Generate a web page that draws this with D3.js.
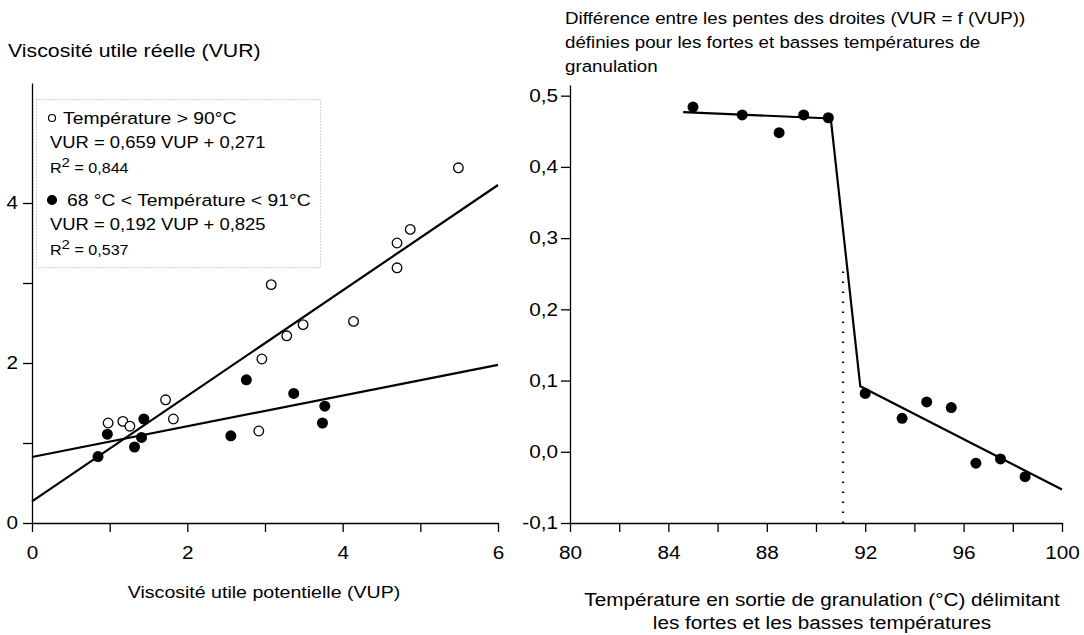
<!DOCTYPE html>
<html>
<head>
<meta charset="utf-8">
<script src="https://cdn.jsdelivr.net/npm/d3@7"></script>
<style>
  body { margin: 0; background: #fff; }
  svg { font-family: "Liberation Sans", Arial, sans-serif; }
  .axis path, .axis line { stroke: #000; stroke-width: 1.3; }
  .axis text { font-size: 18px; fill: #000; }
</style>
</head>
<body>
<svg id="chart" width="1084" height="635"></svg>
<script>
// --- gauche : VUR = f(VUP)
var hotVUP = [0.98, 1.17, 1.26, 1.72, 1.82, 2.92, 2.96, 3.08, 3.28, 3.49, 4.14, 4.70, 4.70, 4.87, 5.49];
var hotVUR = [1.25, 1.27, 1.21, 1.54, 1.30, 1.15, 2.05, 2.98, 2.34, 2.48, 2.52, 3.19, 3.50, 3.67, 4.44];
var coldVUP = [0.85, 0.97, 1.32, 1.41, 1.44, 2.56, 2.76, 3.37, 3.77, 3.74];
var coldVUR = [0.83, 1.11, 0.95, 1.07, 1.30, 1.09, 1.79, 1.62, 1.46, 1.25];
var fitSlope = [0.659, 0.192];
var fitIntercept = [0.271, 0.825];
var legendLines = [
    ['Température > 90°C', 'VUR = 0,659 VUP + 0,271', '0,844'],
    ['68 °C < Température < 91°C', 'VUR = 0,192 VUP + 0,825', '0,537']
];
var leftXTicks = [0, 1, 2, 3, 4, 5, 6];
var leftYTicks = [0, 1, 2, 3, 4];

// --- droite : différence des pentes selon la température de coupure
var cutTemp = [85.0, 87.0, 88.5, 89.5, 90.5, 92.0, 93.5, 94.5, 95.5, 96.5, 97.5, 98.5];
var slopeDiff = [0.484, 0.473, 0.448, 0.473, 0.469, 0.082, 0.047, 0.070, 0.062, -0.016, -0.010, -0.035];
var brokenTemp = [84.6, 90.6, 91.8, 100];
var brokenDiff = [0.477, 0.468, 0.092, -0.053];
var limitTemp = 91.1, limitTop = 0.26;
var rightXTicks = [80, 82, 84, 86, 88, 90, 92, 94, 96, 98, 100];
var rightYTicks = [-0.1, 0, 0.1, 0.2, 0.3, 0.4, 0.5];

var svg = d3.select('#chart');
var fmt = d3.format('.1f');
var comma = d => fmt(d).replace('.', ',').replace('−', '-');

// ===== graphique de gauche
var xL = d3.scaleLinear().domain([0, 6]).range([32, 498]);
var yL = d3.scaleLinear().domain([0, 5.5]).range([523, 83]);

svg.append('g').attr('class', 'axis')
    .attr('transform', 'translate(0,' + yL(0) + ')')
    .call(d3.axisBottom(xL).tickValues(leftXTicks).tickSize(9).tickSizeOuter(0).tickPadding(14)
        .tickFormat(d => d % 2 === 0 ? d : ''));
svg.append('g').attr('class', 'axis')
    .attr('transform', 'translate(' + xL(0) + ',0)')
    .call(d3.axisLeft(yL).tickValues(leftYTicks).tickSize(9).tickSizeOuter(0).tickPadding(5)
        .tickFormat(d => d % 2 === 0 ? d : ''));

// droites de régression
fitSlope.forEach((a, i) => {
    svg.append('line')
        .attr('x1', xL(0)).attr('y1', yL(fitIntercept[i]))
        .attr('x2', xL(6)).attr('y2', yL(a * 6 + fitIntercept[i]))
        .attr('stroke', '#000').attr('stroke-width', 2.2);
});

svg.selectAll('circle.hot').data(d3.range(hotVUP.length)).enter().append('circle')
    .attr('class', 'hot')
    .attr('cx', i => xL(hotVUP[i])).attr('cy', i => yL(hotVUR[i]))
    .attr('r', 4.8).attr('fill', '#fff').attr('stroke', '#000').attr('stroke-width', 1.3);
svg.selectAll('circle.cold').data(d3.range(coldVUP.length)).enter().append('circle')
    .attr('class', 'cold')
    .attr('cx', i => xL(coldVUP[i])).attr('cy', i => yL(coldVUR[i]))
    .attr('r', 5.5).attr('fill', '#000');

// légende
var lg = svg.append('g');
lg.append('rect').attr('x', 36.5).attr('y', 99.5).attr('width', 284).attr('height', 168)
    .attr('fill', 'none').attr('stroke', '#aaa').attr('stroke-width', 1).attr('stroke-dasharray', '1,2');
legendLines.forEach((l, i) => {
    var y0 = 118 + i * 82;
    lg.append('circle').attr('cx', 52).attr('cy', y0)
        .attr('r', i ? 4.5 : 3.5)
        .attr('fill', i ? '#000' : '#fff').attr('stroke', '#000').attr('stroke-width', 1.2);
    lg.append('text').attr('x', i ? 67 : 63).attr('y', y0 + 6).attr('font-size', 16.8).text(l[0]);
    lg.append('text').attr('x', 50).attr('y', y0 + 30).attr('font-size', 16).text(l[1]);
    var r = lg.append('text').attr('class', 'nostretch').attr('x', 50).attr('y', y0 + 55).attr('font-size', 14);
    r.append('tspan').text('R');
    r.append('tspan').attr('dy', -6).attr('font-size', 13).text('2');
    r.append('tspan').attr('dy', 6).text(' = ' + l[2]);
});

svg.append('text').attr('x', 8).attr('y', 57).attr('font-size', 18.5).text('Viscosité utile réelle (VUR)');
svg.append('text').attr('x', 264).attr('y', 598).attr('font-size', 17).attr('text-anchor', 'middle')
    .text('Viscosité utile potentielle (VUP)');

// ===== graphique de droite
var xR = d3.scaleLinear().domain([80, 100]).range([570, 1062]);
var yR = d3.scaleLinear().domain([-0.1, 0.515]).range([523, 85]);

svg.append('g').attr('class', 'axis')
    .attr('transform', 'translate(0,' + yR(-0.1) + ')')
    .call(d3.axisBottom(xR).tickValues(rightXTicks).tickSize(9).tickSizeOuter(0).tickPadding(14)
        .tickFormat(d => d % 4 === 0 ? d : ''));
svg.append('g').attr('class', 'axis')
    .attr('transform', 'translate(' + xR(80) + ',0)')
    .call(d3.axisLeft(yR).tickValues(rightYTicks).tickSize(9).tickSizeOuter(0).tickPadding(3)
        .tickFormat(comma));

svg.append('line')
    .attr('x1', xR(limitTemp)).attr('x2', xR(limitTemp))
    .attr('y1', yR(-0.1)).attr('y2', yR(limitTop))
    .attr('stroke', '#000').attr('stroke-width', 2.2).attr('stroke-dasharray', '1.6,8.4');

svg.append('path')
    .datum(d3.range(brokenTemp.length))
    .attr('d', d3.line().x(i => xR(brokenTemp[i])).y(i => yR(brokenDiff[i])))
    .attr('fill', 'none').attr('stroke', '#000').attr('stroke-width', 2.2);

svg.selectAll('circle.diff').data(d3.range(cutTemp.length)).enter().append('circle')
    .attr('class', 'diff')
    .attr('cx', i => xR(cutTemp[i])).attr('cy', i => yR(slopeDiff[i]))
    .attr('r', 5.5).attr('fill', '#000');

var titleR = ['Différence entre les pentes des droites (VUR = f (VUP))',
    'définies pour les fortes et basses températures de',
    'granulation'];
svg.append('g').selectAll('text').data(titleR).enter().append('text')
    .attr('x', 565).attr('y', (d, i) => 24 + i * 24).attr('font-size', 16.3).text(d => d);

var xTitleR = ['Température en sortie de granulation (°C) délimitant',
    'les fortes et les basses températures'];
svg.append('g').selectAll('text').data(xTitleR).enter().append('text')
    .attr('x', 822).attr('y', (d, i) => 606 + i * 23).attr('font-size', 18)
    .attr('text-anchor', 'middle').text(d => d);

// l'original a un lettrage plus large que Liberation Sans : on étire les textes
svg.selectAll('text').each(function () {
    if (this.classList.contains('nostretch') || !this.textContent) return;
    var w = this.getComputedTextLength();
    d3.select(this).attr('textLength', w * 1.15).attr('lengthAdjust', 'spacingAndGlyphs');
});
svg.selectAll('text.nostretch').attr('transform', function () {
    var x = +this.getAttribute('x');
    return 'translate(' + x + ',0) scale(1.15,1) translate(' + (-x) + ',0)';
});
</script>
</body>
</html>
